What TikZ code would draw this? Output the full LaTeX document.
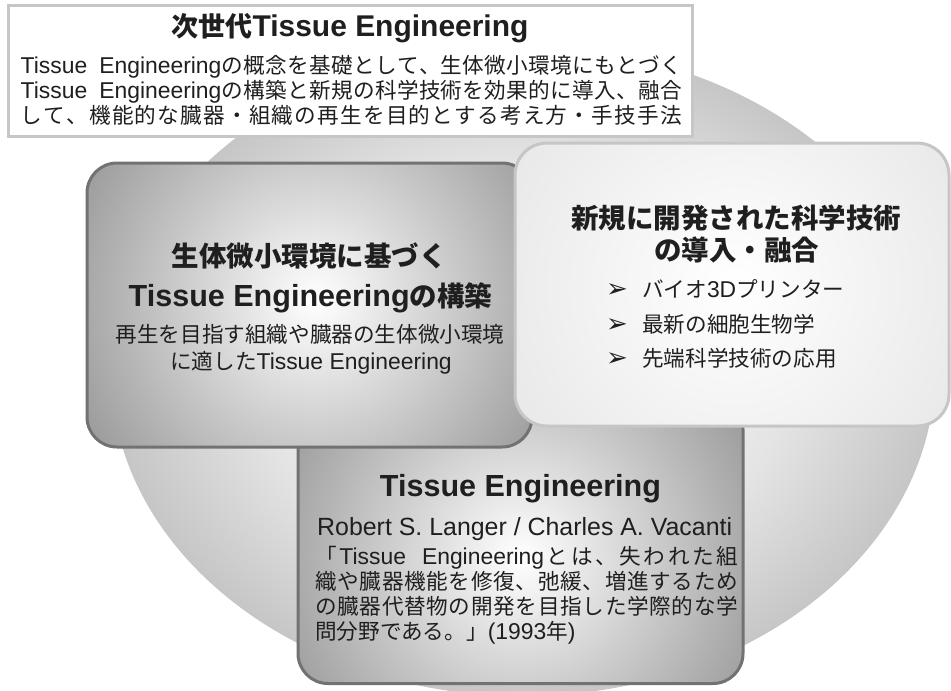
\documentclass[tikz,border=0pt]{standalone}
\usepackage{fontspec}
\setmainfont{Noto Sans CJK JP}
\newfontfamily\lat[Scale=1.06]{Liberation Sans}
\newfontfamily\latb[Scale=1.11]{Liberation Sans}
\newfontfamily\symf{DejaVu Sans}
\makeatletter
\newcommand\jsp[2]{\makebox[#1][s]{\let\jsp@sep\relax\@tfor\jsp@x:=#2\do{\jsp@sep{\jsp@x}\def\jsp@sep{\hskip 0pt plus 1fil\relax}}}}
\makeatother
\definecolor{txt}{HTML}{1F1F1F}
\definecolor{bgin}{HTML}{F2F2F2}
\definecolor{bgmid}{HTML}{E4E4E4}
\definecolor{bgout}{HTML}{C6C6C6}
\definecolor{boxdark}{HTML}{727272}
\definecolor{boxlight}{HTML}{C6C6C6}
\definecolor{dkout}{HTML}{9C9C9C}
\definecolor{ltout}{HTML}{E8E8E8}
\pgfdeclareradialshading{bgshade}{\pgfpoint{0bp}{0bp}}{color(0bp)=(bgin); color(10bp)=(bgin); color(16bp)=(bgmid); color(25bp)=(bgout); color(50bp)=(bgout)}
\begin{document}
\begin{tikzpicture}[x=1pt,y=-1pt,
  darkbox/.style={draw=boxdark,line width=3pt,rounded corners=30pt,minimum width=445pt,minimum height=284pt,inner sep=0pt},
  lightbox/.style={draw=boxlight,line width=3pt,rounded corners=32pt,minimum width=434pt,minimum height=283pt,inner sep=0pt},
  glow/.style n args={4}{path picture={\fill[#4] (path picture bounding box.south west) rectangle (path picture bounding box.north east);
     \shade[inner color=#3,outer color=#4] ([xshift=#1,yshift=#2]path picture bounding box.center) circle (262pt);}},
  head/.style={font=\fontsize{27.5}{33}\selectfont\bfseries, text=txt, inner sep=0pt},
  body/.style={font=\fontsize{21.6}{26}\selectfont, text=txt, inner sep=0pt},
  arr/.style={font=\symf\fontsize{26}{26}\selectfont, text=txt, inner sep=0pt, anchor=base west},
]
\useasboundingbox (0,0) rectangle (951,691);
% background ellipse
\shade[shading=bgshade] (523,371) ellipse [x radius=412, y radius=325];
% title box
\node[draw=boxlight, line width=3pt, fill=white, minimum width=684pt, minimum height=131pt, inner sep=0pt] (tbox) at (350,70.5) {};
\node[head, anchor=base, font=\fontsize{27}{32}\selectfont\bfseries] (t0) at (350,36) {次世代{\latb Tissue Engineering}};
\node[body, anchor=base west] (t1) at (20.5,73) {\jsp{661pt}{{\lat Tissue\hspace{12pt}Engineering}の概念を基礎として、生体微小環境にもとづく}};
\node[body, anchor=base west] (t2) at (20.5,98) {\jsp{661pt}{{\lat Tissue\hspace{12pt}Engineering}の構築と新規の科学技術を効果的に導入、融合}};
\node[body, anchor=base west] (t3) at (20.5,123) {\jsp{661pt}{して、機能的な臓器・組織の再生を目的とする考え方・手技手法}};
% bottom box
\node[darkbox, glow={0pt}{-15pt}{white}{dkout}] (botbox) at (520.5,541.5) {};
\node[head, anchor=base, font=\fontsize{27.5}{33}\selectfont\bfseries] (b1) at (520.5,496) {{\latb Tissue Engineering}};
\node[body, anchor=base west, font=\fontsize{23.5}{28}\selectfont] (b2) at (317,535) {{\lat Robert S. Langer / Charles A. Vacanti}};
\node[body, anchor=base west] (b3) at (315,564) {\jsp{423pt}{「{\lat Tissue\hspace{16pt}Engineering}とは、失われた組}};
\node[body, anchor=base west] (b4) at (315,589) {\jsp{423pt}{織や臓器機能を修復、弛緩、増進するため}};
\node[body, anchor=base west] (b5) at (315,614) {\jsp{423pt}{の臓器代替物の開発を目指した学際的な学}};
\node[body, anchor=base west] (b6) at (315,639) {問分野である。」{\lat (1993}年{\lat )}};
% left box
\node[darkbox, glow={6pt}{5pt}{white}{dkout}] (lbox) at (309.5,305) {};
\node[head, anchor=base] (l1) at (309,266) {生体微小環境に基づく};
\node[head, anchor=base] (l2) at (310.5,306) {{\latb Tissue Engineering}の構築};
\node[body, anchor=base] (l3) at (310,342) {再生を目指す組織や臓器の生体微小環境};
\node[body, anchor=base] (l4) at (311,369) {に適した{\lat Tissue Engineering}};
% right box
\node[lightbox, glow={3pt}{0pt}{white}{ltout}] (rbox) at (732,284.5) {};
\node[head, anchor=base] (r1) at (736,228) {新規に開発された科学技術};
\node[head, anchor=base] (r2) at (736.5,260) {の導入・融合};
\node[arr] (a1) at (606,297) {➢};
\node[arr] (a2) at (606,332) {➢};
\node[arr] (a3) at (606,366) {➢};
\node[body, anchor=base west] (r3) at (642,297) {バイオ{\lat 3D}プリンター};
\node[body, anchor=base west] (r4) at (642,332) {最新の細胞生物学};
\node[body, anchor=base west] (r5) at (642,366) {先端科学技術の応用};
\end{tikzpicture}
\end{document}
